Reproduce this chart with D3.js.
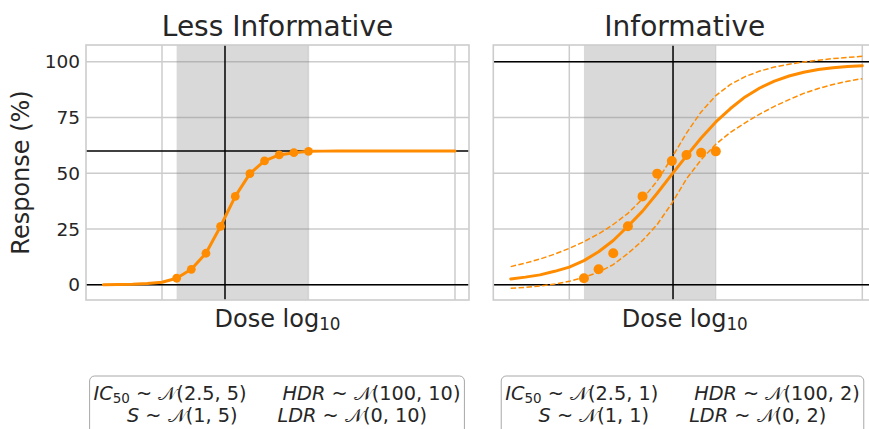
<!DOCTYPE html>
<html>
<head>
<meta charset="utf-8">
<script src="https://cdn.jsdelivr.net/npm/d3@7"></script>
<style>
  html, body { margin: 0; padding: 0; background: #fff; }
  svg { display: block; font-family: "DejaVu Sans", sans-serif; }
</style>
</head>
<body>
<svg id="chart" width="869" height="429"></svg>
<script>
// log10 dose grid on which the fitted dose-response curves are evaluated
const doseGrid = [-2, -1.5, -1, -0.5, 0, 0.5, 1, 1.5, 2, 2.5, 3, 3.5, 4, 4.5, 5,
                  5.5, 6, 6.5, 7, 7.5, 8, 8.5, 9, 9.5, 10];

// observed responses (%) at each log10 dose
const observedDose = [0.5, 1, 1.5, 2, 2.5, 3, 3.5, 4, 4.5, 5];
const observedResponse = [2.9, 6.9, 14.1, 26.2, 39.6, 49.8, 55.5, 58.2, 59.2, 59.8];

// fitted curve under the less informative priors
const lessInformativeFit = [0.0, 0.1, 0.2, 0.5, 1.1, 2.9, 6.9, 14.1, 26.2, 39.6, 49.8, 55.5, 58.2,
                            59.2, 59.8, 59.9, 60.0, 60.0, 60.0, 60.0, 60.0, 60.0, 60.0, 60.0, 60.0];

// fitted curve and credible band under the informative priors
const informativeFit = [2.6, 3.4, 4.4, 6.0, 7.9, 10.8, 14.8, 19.8, 26.2, 33.0, 41.0, 49.5, 57.8,
                        65.8, 73.0, 79.0, 84.2, 88.2, 91.3, 93.6, 95.3, 96.5, 97.3, 97.8, 98.2];
const informativeUpper = [8.1, 9.7, 11.5, 13.7, 16.3, 19.3, 22.8, 27.0, 32.0, 38.5, 46.5, 57.0, 68.0,
                          77.5, 84.8, 89.8, 93.3, 95.8, 97.6, 98.9, 99.9, 100.7, 101.4, 101.9, 102.4];
const informativeLower = [-1.6, -1.2, -0.6, 0.3, 1.5, 3.3, 5.6, 9.0, 14.0, 19.8, 27.0, 36.5, 47.5,
                          56.0, 63.0, 68.3, 72.6, 76.5, 80.0, 83.0, 85.8, 88.0, 89.8, 91.2, 92.4];

// estimated parameters per panel
const panelTitles = ["Less Informative", "Informative"];
const fitIC50 = [2.15, 3.54];
const fitLDR = [0, 0];
const fitHDR = [60, 100];

// tested dose range (shaded)
const doseRange = [0.5, 5];

// axis ticks
const doseTicks = [0, 10];
const responseTicks = [0, 25, 50, 75, 100];

// prior specifications [mean, sd] per panel
const priorIC50 = [[2.5, 5], [2.5, 1]];
const priorSlope = [[1, 5], [1, 1]];
const priorHDR = [[100, 10], [100, 2]];
const priorLDR = [[0, 10], [0, 2]];

const orange = "#ff8c00";
const ink = "#262626";
const gridColor = "#cccccc";

const svg = d3.select("#chart");
svg.append("rect").attr("width", 869).attr("height", 429).attr("fill", "#fff");

const plotTop = 45, plotBottom = 300;
const panels = [
  { left: 86, right: 469, center: 277.5, legendCenter: 277 },
  { left: 493.3, right: 876.3, center: 684.8, legendCenter: 682.5 }
];

const y = d3.scaleLinear().domain([-6.86, 107.49]).range([plotBottom, plotTop]);

panels.forEach((p, i) => {
  const x = d3.scaleLinear().domain([-2.594, 10.478]).range([p.left, p.right]);
  const g = svg.append("g");

  // grid
  g.selectAll(".hg").data(responseTicks).join("line")
    .attr("x1", p.left).attr("x2", p.right)
    .attr("y1", d => y(d)).attr("y2", d => y(d))
    .attr("stroke", gridColor).attr("stroke-width", 1.5);
  g.selectAll(".vg").data(doseTicks).join("line")
    .attr("x1", d => x(d)).attr("x2", d => x(d))
    .attr("y1", plotTop).attr("y2", plotBottom)
    .attr("stroke", gridColor).attr("stroke-width", 1.5);

  // tested dose range
  g.append("rect")
    .attr("x", x(doseRange[0])).attr("width", x(doseRange[1]) - x(doseRange[0]))
    .attr("y", plotTop).attr("height", plotBottom - plotTop)
    .attr("fill", "#808080").attr("fill-opacity", 0.3);
  g.append("line")
    .attr("x1", x(doseRange[1])).attr("x2", x(doseRange[1]))
    .attr("y1", plotTop).attr("y2", plotBottom)
    .attr("stroke", "#808080").attr("stroke-opacity", 0.2).attr("stroke-width", 1.5);

  // reference lines at the estimated LDR, HDR and IC50
  [fitLDR[i], fitHDR[i]].forEach(v => {
    g.append("line").attr("x1", p.left).attr("x2", p.right)
      .attr("y1", y(v)).attr("y2", y(v))
      .attr("stroke", "#000").attr("stroke-width", 1.5);
  });
  g.append("line").attr("x1", x(fitIC50[i])).attr("x2", x(fitIC50[i]))
    .attr("y1", plotTop).attr("y2", plotBottom)
    .attr("stroke", "#000").attr("stroke-width", 1.5);

  const line = d3.line().x(d => x(d[0])).y(d => y(d[1]));

  if (i === 0) {
    g.append("path").datum(d3.zip(doseGrid, lessInformativeFit))
      .attr("d", line).attr("fill", "none").attr("stroke", orange)
      .attr("stroke-width", 3).attr("stroke-linejoin", "round").attr("stroke-linecap", "round");
  } else {
    [informativeUpper, informativeLower].forEach(band => {
      g.append("path").datum(d3.zip(doseGrid, band))
        .attr("d", line).attr("fill", "none").attr("stroke", orange)
        .attr("stroke-width", 1.5).attr("stroke-dasharray", "5.5,2.4");
    });
    g.append("path").datum(d3.zip(doseGrid, informativeFit))
      .attr("d", line).attr("fill", "none").attr("stroke", orange)
      .attr("stroke-width", 3).attr("stroke-linejoin", "round").attr("stroke-linecap", "round");
  }

  g.selectAll(".pt").data(d3.zip(observedDose, observedResponse)).join("circle")
    .attr("cx", d => x(d[0])).attr("cy", d => y(d[1]))
    .attr("r", i === 0 ? 4.4 : 5).attr("fill", orange);

  // frame
  g.append("rect").attr("x", p.left).attr("y", plotTop)
    .attr("width", p.right - p.left).attr("height", plotBottom - plotTop)
    .attr("fill", "none").attr("stroke", gridColor).attr("stroke-width", 1.6);

  // title
  svg.append("text").attr("x", p.center).attr("y", 35.7)
    .attr("text-anchor", "middle").attr("font-size", 28).attr("fill", ink)
    .text(panelTitles[i]);

  // x label
  const xl = svg.append("text").attr("x", p.center).attr("y", 327.3)
    .attr("text-anchor", "middle").attr("font-size", 24).attr("fill", ink);
  xl.append("tspan").text("Dose log");
  xl.append("tspan").attr("font-size", 16.8).attr("dy", 3).text("10");

  // y tick labels on the shared axis
  if (i === 0) {
    svg.selectAll(".yt").data(responseTicks).join("text")
      .attr("x", 80).attr("y", d => y(d)).attr("dy", "0.36em")
      .attr("text-anchor", "end").attr("font-size", 18.5).attr("fill", ink)
      .text(d => d);
    svg.append("text")
      .attr("transform", `translate(29,${(plotTop + plotBottom) / 2}) rotate(-90)`)
      .attr("text-anchor", "middle").attr("font-size", 24).attr("fill", ink)
      .text("Response (%)");
  }

  // prior specification box
  const lg = svg.append("g");
  const box = lg.append("rect");
  const fs = 19.3;
  function mathLine(yb, pieces) {
    const t = lg.append("text").attr("x", p.legendCenter).attr("y", yb)
      .attr("text-anchor", "middle").attr("font-size", fs).attr("fill", ink)
      .attr("xml:space", "preserve");
    pieces.forEach(pc => {
      const ts = t.append("tspan").text(pc.t);
      if (pc.it) ts.attr("font-style", "italic");
      if (pc.sub) ts.attr("font-size", fs * 0.7).attr("dy", 3.5);
      if (pc.up) ts.attr("dy", -3.5);
      if (pc.dx) ts.attr("dx", pc.dx);
    });
    return t;
  }
  const fmt = a => `(${a[0]}, ${a[1]})`;
  const l1 = mathLine(399.5, [
    { t: "IC", it: true }, { t: "50", sub: true }, { t: " ~ ", up: true }, { t: "𝒩" }, { t: fmt(priorIC50[i]) },
    { t: "HDR", it: true, dx: 36 }, { t: " ~ " }, { t: "𝒩" }, { t: fmt(priorHDR[i]) }
  ]);
  const l2 = mathLine(422, [
    { t: "S", it: true }, { t: " ~ " }, { t: "𝒩" }, { t: fmt(priorSlope[i]) },
    { t: "LDR", it: true, dx: 40 }, { t: " ~ " }, { t: "𝒩" }, { t: fmt(priorLDR[i]) }
  ]);
  const b1 = l1.node().getBBox(), b2 = l2.node().getBBox();
  const bx0 = Math.min(b1.x, b2.x) - 4, bx1 = Math.max(b1.x + b1.width, b2.x + b2.width) + 4;
  box.attr("x", bx0).attr("y", 376).attr("width", bx1 - bx0).attr("height", 70)
    .attr("rx", 5).attr("fill", "#fff").attr("stroke", "#a8a8a8").attr("stroke-width", 1);
});
</script>
</body>
</html>
